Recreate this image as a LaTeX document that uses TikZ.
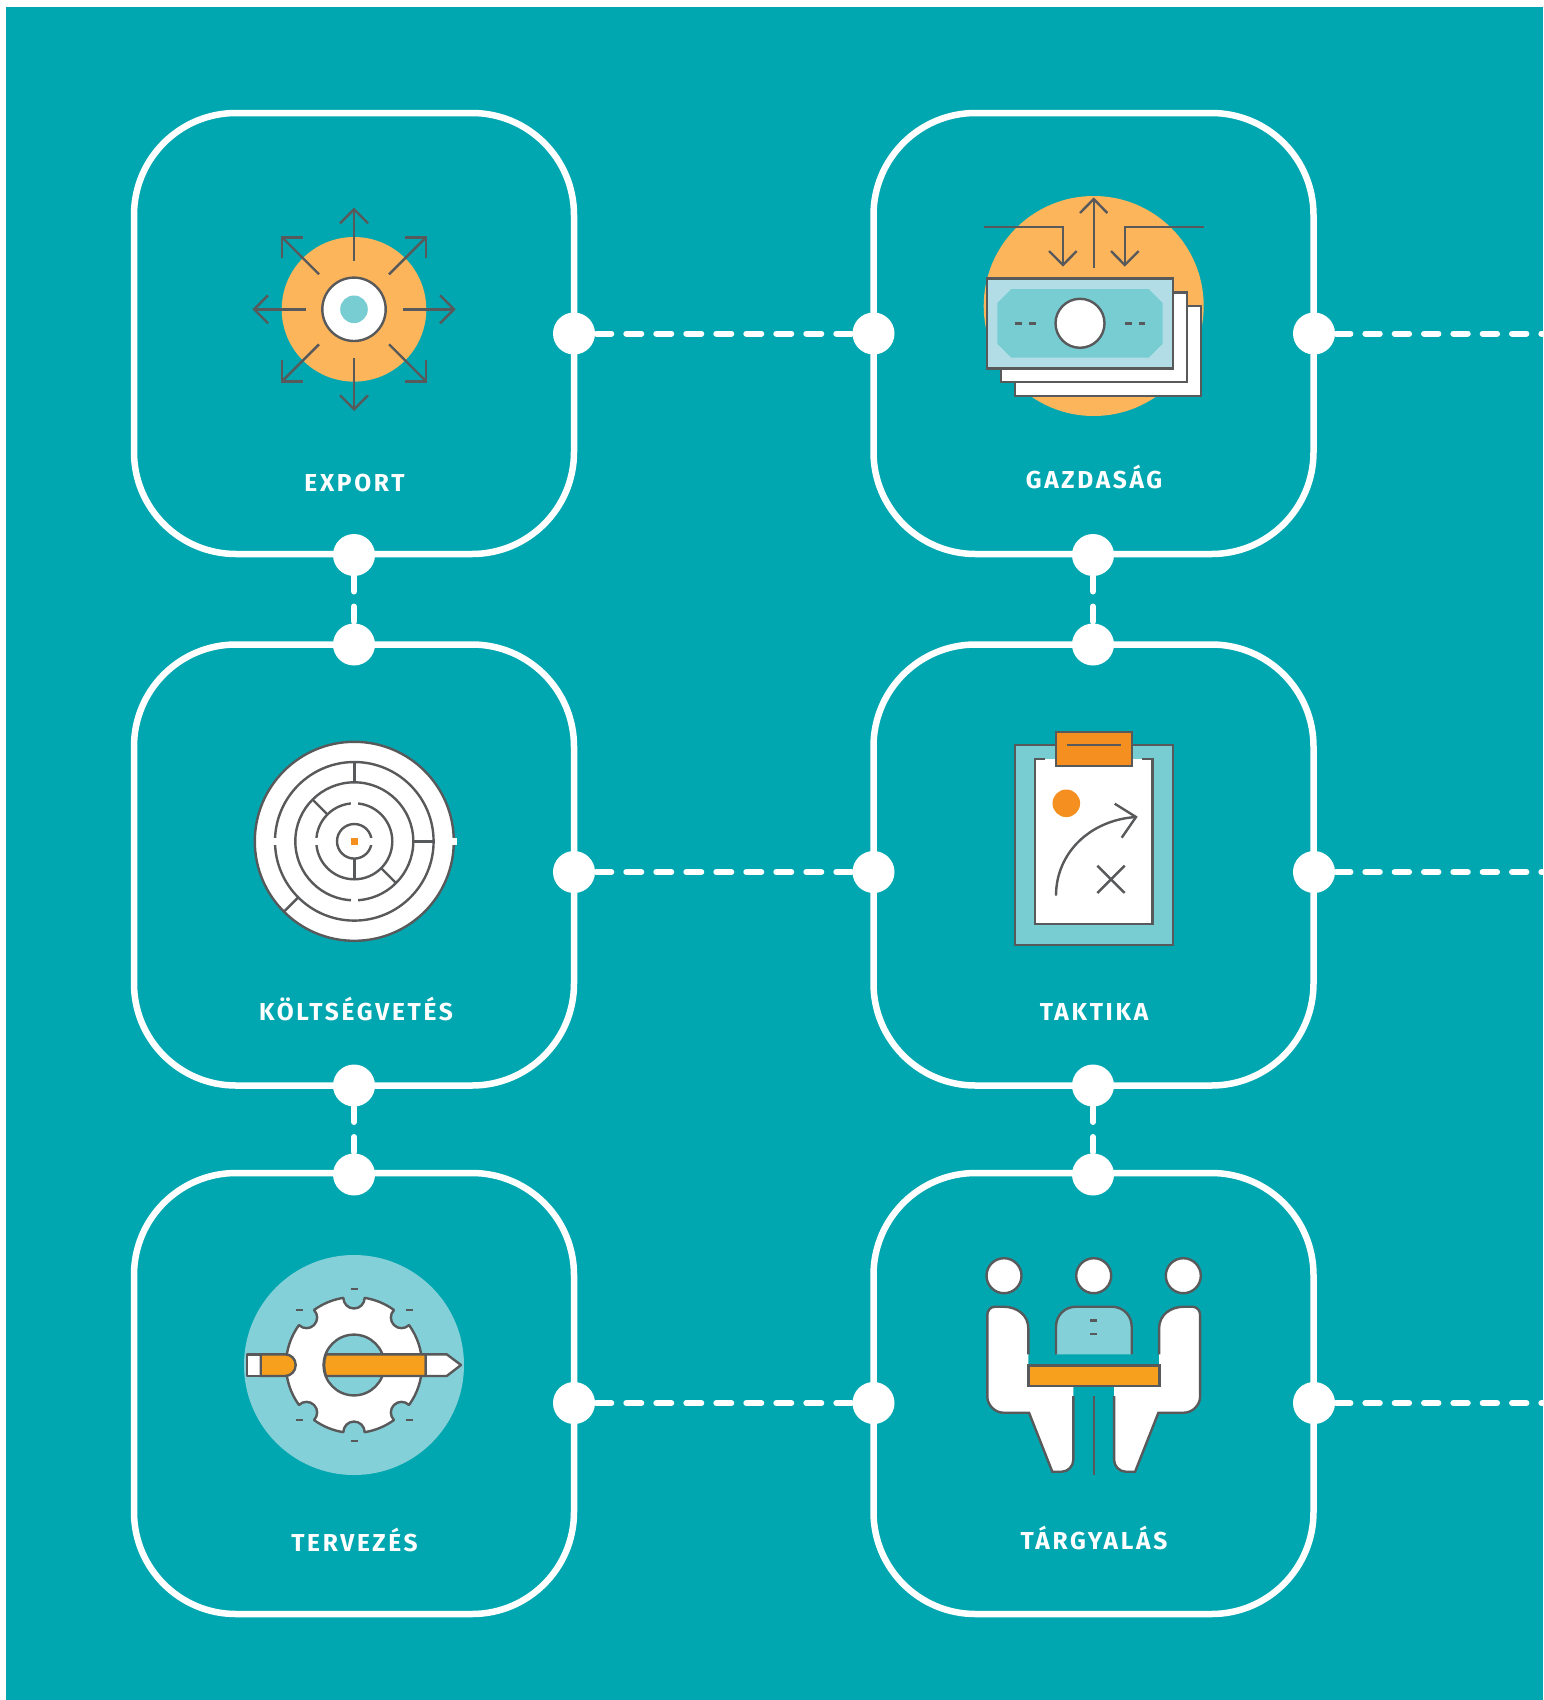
\documentclass[tikz,border=0pt]{standalone}
\usepackage{fontspec}
\newfontfamily\lab[LetterSpace=11]{Fira Sans}
\definecolor{bgteal}{HTML}{00A7B0}
\definecolor{ink}{HTML}{58595B}
\definecolor{peach}{HTML}{FDB55B}
\definecolor{aqua}{HTML}{78CDD3}
\definecolor{paleaqua}{HTML}{84D0D8}
\definecolor{billblue}{HTML}{B3DDE6}
\definecolor{orangeA}{HTML}{F58F1F}
\definecolor{orangeB}{HTML}{F6A01E}
\tikzset{
  card/.style={draw=white,line width=6.5pt,rounded corners=102pt,rectangle,minimum width=440pt,minimum height=441pt,inner sep=0pt},
  port/.style={circle,fill=white,inner sep=0pt,minimum size=42pt},
  hlink/.style={draw=white,line width=6pt,line cap=round,dash pattern=on 15pt off 15pt,dash phase=7.7pt},
  rlink/.style={draw=white,line width=6pt,line cap=round,dash pattern=on 14.4pt off 14.93pt,dash phase=7.3pt},
  vlink/.style={draw=white,line width=6pt,line cap=round,dash pattern=on 15pt off 15pt,dash phase=8.5pt},
  caption/.style={text=white,inner sep=0pt,anchor=base,font=\lab\bfseries\fontsize{24.5}{24.5}\selectfont},
  ln/.style={draw=ink,line width=2.4pt},
}
\newcommand{\personfill}{(1028.3,-1354.3)--(1028.3,-1328.3) .. controls (1028.3,-1315) and (1017,-1306.7) .. (1003.3,-1306.7)--(995,-1306.7) .. controls (990,-1306.7) and (987.3,-1311) .. (987.3,-1315)--(987.3,-1396.7) .. controls (987.3,-1405) and (995,-1412.7) .. (1003.3,-1412.7)--(1029,-1412.7)--(1052.3,-1471.7)--(1061.7,-1471.7) .. controls (1068,-1471.7) and (1073.3,-1466) .. (1073.3,-1460)--(1073.3,-1396)}
\begin{document}
\begin{tikzpicture}[x=1pt,y=1pt]
\useasboundingbox (0,-1700) rectangle (1543,0);
\fill[white] (0,-1700) rectangle (1543,0);
\fill[bgteal] (6,-1700) rectangle (1543,-7);

% cards
\node[card] (c11) at (354,-333.5) {};
\node[card] (c12) at (1093.5,-333.5) {};
\node[card] (c21) at (354,-865) {};
\node[card] (c22) at (1093.5,-865) {};
\node[card] (c31) at (354,-1393.5) {};
\node[card] (c32) at (1093.5,-1393.5) {};

% ports
\coordinate (e1) at (1560,-333.5);
\coordinate (e2) at (1560,-872);
\coordinate (e3) at (1560,-1403);
\node[port] (r1a) at (574,-333.5) {};
\node[port] (l1b) at (873.5,-333.5) {};
\node[port] (r1b) at (1314,-333.5) {};
\node[port] (r2a) at (574,-872) {};
\node[port] (l2b) at (873.5,-872) {};
\node[port] (r2b) at (1314,-872) {};
\node[port] (r3a) at (574,-1403) {};
\node[port] (l3b) at (873.5,-1403) {};
\node[port] (r3b) at (1314,-1403) {};
\node[port] (d1a) at (354,-555) {};
\node[port] (u2a) at (354,-644.5) {};
\node[port] (d2a) at (354,-1085.5) {};
\node[port] (u3a) at (354,-1174.5) {};
\node[port] (d1b) at (1093,-555) {};
\node[port] (u2b) at (1093,-644.5) {};
\node[port] (d2b) at (1093,-1085.5) {};
\node[port] (u3b) at (1093,-1174.5) {};

% connectors
\draw[hlink] (r1a.center)--(l1b.center);
\draw[rlink] (r1b.center)--(e1);
\draw[hlink] (r2a.center)--(l2b.center);
\draw[rlink] (r2b.center)--(e2);
\draw[hlink] (r3a.center)--(l3b.center);
\draw[rlink] (r3b.center)--(e3);
\draw[vlink] (d1a.center)--(u2a.center);
\draw[vlink] (d2a.center)--(u3a.center);
\draw[vlink] (d1b.center)--(u2b.center);
\draw[vlink] (d2b.center)--(u3b.center);

% captions
\node[caption] (t1) at (354.5,-491) {EXPORT};
\node[caption] (t2) at (1094,-488.5) {GAZDASÁG};
\node[caption] (t3) at (356,-1020.5) {KÖLTSÉGVETÉS};
\node[caption] (t4) at (1094,-1020.5) {TAKTIKA};
\node[caption] (t5) at (354.5,-1551) {TERVEZÉS};
\node[caption] (t6) at (1094,-1549) {TÁRGYALÁS};

% ---- EXPORT icon
\begin{scope}[shift={(354,-309.3)}]
\fill[peach] (0,0) circle (72.3);
\draw[ln,fill=white] (0,0) circle (31.7);
\fill[aqua] (0,0) circle (13.8);
\foreach \a in {0,90,180,270}{
  \begin{scope}[rotate=\a]
  \draw[ln] (48.5,0)--(100,0);
  \draw[ln,line join=miter] (86,14)--(100,0)--(86,-14);
  \end{scope}}
\foreach \a in {45,135,225,315}{
  \begin{scope}[rotate=\a]
  \draw[ln] (49.5,0)--(102,0);
  \end{scope}}
\foreach \sx/\sy in {1/1,1/-1,-1/1,-1/-1}{
  \draw[ln,line join=miter] (\sx*72-\sx*21,\sy*72)--(\sx*72,\sy*72)--(\sx*72,\sy*72-\sy*21);}
\end{scope}

% ---- GAZDASAG icon
\fill[peach] (1093.7,-306) circle (110);
\draw[ln] (984,-227)--(1063,-227)--(1063,-265);
\draw[ln] (1049,-251)--(1063,-265)--(1076.7,-251);
\draw[ln] (1203.7,-227)--(1124.7,-227)--(1124.7,-265);
\draw[ln] (1111,-251)--(1124.7,-265)--(1138.7,-251);
\draw[ln] (1093.7,-267.7)--(1093.7,-199);
\draw[ln] (1080,-213)--(1093.7,-199)--(1107.3,-213);
\draw[ln,fill=white] (1014.7,-306) rectangle (1200.7,-395.7);
\draw[ln,fill=white] (1001,-292.3) rectangle (1186.7,-381.7);
\draw[ln,fill=billblue] (987,-278.3) rectangle (1173,-368.3);
\fill[aqua] (1011.3,-289)--(1148.7,-289)--(1162.7,-303)--(1162.7,-343.7)--(1148.7,-357.7)--(1011.3,-357.7)--(997.3,-343.7)--(997.3,-303)--cycle;
\draw[ln,fill=white] (1080,-323.3) circle (24.5);
\draw[ln] (1015,-323.3)--(1021.7,-323.3) (1029,-323.3)--(1035.7,-323.3) (1125,-323.3)--(1131.7,-323.3) (1139,-323.3)--(1145.3,-323.3);

% ---- KOLTSEGVETES icon (maze)
\begin{scope}[shift={(354.3,-841.3)}]
\draw[ln,fill=white] (0,0) circle (99.5);
\draw[ln] (0,0) circle (79.3);
\draw[ln] (0,0) circle (59);
\draw[ln] (0,0) circle (38);
\draw[ln] (0,0) circle (17.3);
\fill[white] (97.4,-3.7) rectangle (102.4,3.7);
\fill[white] (-82,-3.8) rectangle (-76,3.8);
\fill[white] (-41,-3.8) rectangle (-35,3.8);
\fill[white] (-3.5,35) rectangle (3.5,41);
\fill[white] (-3.5,-62) rectangle (3.5,-56);
\fill[white] (14,-3.8) rectangle (20,3.8);
\draw[ln] (0,59)--(0,79.3);
\draw[ln] (59,0)--(79.3,0);
\draw[ln] (0,-17.3)--(0,-38);
\draw[ln] (135:38)--(135:59);
\draw[ln] (-45:38)--(-45:59);
\draw[ln] (225:79.3)--(225:99.5);
\fill[orangeA] (-3.5,-3.5) rectangle (3.5,3.5);
\end{scope}

% ---- TAKTIKA icon
\draw[ln,fill=aqua] (1014.7,-745) rectangle (1173,-945);
\fill[white] (1035,-758.7) rectangle (1152.3,-924);
\draw[ln] (1045,-758.7)--(1035,-758.7)--(1035,-924)--(1152.3,-924)--(1152.3,-758.7)--(1142.3,-758.7);
\draw[ln,fill=orangeA] (1056,-731.7) rectangle (1131.7,-765.7);
\draw[ln] (1066.7,-745)--(1121,-745);
\fill[orangeA] (1066.3,-803.3) circle (13.8);
\draw[ln] (1056,-895.7) .. controls (1056,-853) and (1090,-820) .. (1136,-817);
\draw[ln] (1114.7,-803.7)--(1136,-817)--(1121.7,-837.7);
\draw[ln] (1097.3,-865.7)--(1124.7,-893) (1124.7,-865.7)--(1097.3,-893);

% ---- TERVEZES icon
\begin{scope}[shift={(354,-1365)}]
\fill[paleaqua] (0,0) circle (110);
\draw[ln,fill=white,line join=round] (81:68)
  arc[start angle=81,end angle=54,radius=68]
  arc[start angle=135,delta angle=180,radius=10.64]
  arc[start angle=36,end angle=-36,radius=68]
  arc[start angle=45,delta angle=180,radius=10.64]
  arc[start angle=-54,end angle=-81,radius=68]
  arc[start angle=0,delta angle=180,radius=10.64]
  arc[start angle=-99,end angle=-126,radius=68]
  arc[start angle=-45,delta angle=180,radius=10.64]
  arc[start angle=-144,end angle=-216,radius=68]
  arc[start angle=-135,delta angle=180,radius=10.64]
  arc[start angle=-234,end angle=-261,radius=68]
  arc[start angle=180,delta angle=180,radius=10.64]
  --cycle;
\draw[ln,fill=paleaqua] (0,0) circle (30.4);
\draw[ln] (-3.5,76)--(3.5,76) (-3.5,-76)--(3.5,-76);
\draw[ln] (-58.5,55)--(-51.5,55) (51.5,55)--(58.5,55) (-58.5,-55)--(-51.5,-55) (51.5,-55)--(58.5,-55);
\end{scope}
\draw[ln,fill=white,line join=round] (247,-1354.3) rectangle (260.7,-1376);
\draw[ln,fill=orangeB] (260.7,-1354.3)--(285,-1354.3) .. controls (291,-1354.3) and (295.7,-1359) .. (295.7,-1365) .. controls (295.7,-1371) and (291,-1376) .. (285,-1376)--(260.7,-1376)--cycle;
\draw[ln,fill=orangeB] (326,-1354.3)--(425.7,-1354.3)--(425.7,-1376)--(326,-1376) .. controls (323.5,-1369) and (323.5,-1361) .. cycle;
\draw[ln,fill=white,line join=round] (425.7,-1354.3)--(446.7,-1354.3)--(461,-1365)--(446.7,-1376)--(425.7,-1376)--cycle;

% ---- TARGYALAS icon
\draw[ln,fill=white] (1004,-1275.7) circle (17.5);
\draw[ln,fill=white] (1093.7,-1275.7) circle (17.5);
\draw[ln,fill=white] (1183.3,-1275.7) circle (17.5);
\fill[white] \personfill--(1073.3,-1386)--(1028.3,-1386)--cycle;
\draw[ln] \personfill;
\begin{scope}[xshift=2187.4pt,xscale=-1]
\fill[white] \personfill--(1073.3,-1386)--(1028.3,-1386)--cycle;
\draw[ln] \personfill;
\end{scope}
\fill[paleaqua] (1056,-1354.3)--(1056,-1326.7) .. controls (1056,-1315) and (1065,-1306.7) .. (1076,-1306.7)--(1111.7,-1306.7) .. controls (1122.7,-1306.7) and (1131.7,-1315) .. (1131.7,-1326.7)--(1131.7,-1354.3)--cycle;
\draw[ln] (1056,-1354.3)--(1056,-1326.7) .. controls (1056,-1315) and (1065,-1306.7) .. (1076,-1306.7)--(1111.7,-1306.7) .. controls (1122.7,-1306.7) and (1131.7,-1315) .. (1131.7,-1326.7)--(1131.7,-1354.3);
\draw[ln] (1090.2,-1320.3)--(1097.2,-1320.3) (1090.2,-1334)--(1097.2,-1334);
\draw[ln,fill=orangeB] (1028.3,-1365.3) rectangle (1159.3,-1386);
\draw[ln] (1093.7,-1396)--(1093.7,-1475);
\end{tikzpicture}
\end{document}
